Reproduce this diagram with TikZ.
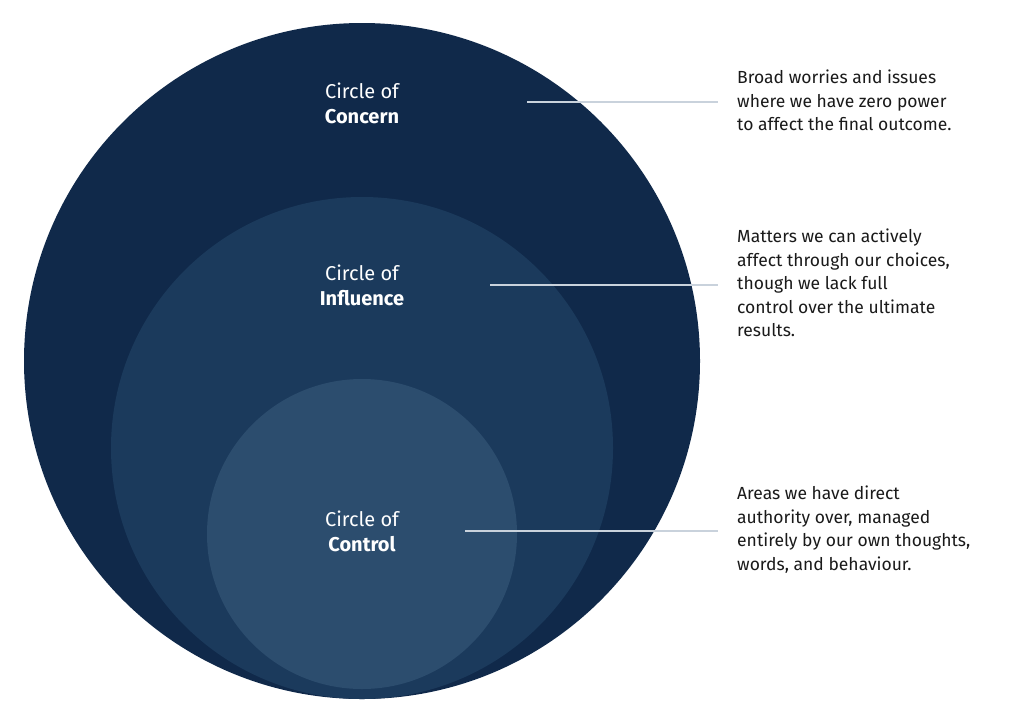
\documentclass[tikz,border=0pt]{standalone}
\usepackage{fontspec}
\setmainfont{Fira Sans}
\definecolor{cOut}{HTML}{10294A}
\definecolor{cMid}{HTML}{1B3A5C}
\definecolor{cIn}{HTML}{2C4D6E}
\definecolor{cLine}{HTML}{C9D2DC}
\definecolor{cTxt}{HTML}{1A1A1A}
\begin{document}
\begin{tikzpicture}[x=1pt,y=-1pt,
  lbl/.style={text=white,font=\fontsize{20}{25}\selectfont,align=center},
  desc/.style={anchor=north west,text=cTxt,font=\fontsize{17.5}{23.5}\selectfont,align=left,inner sep=0pt},
  ln/.style={draw=cLine,line width=1.2pt}]
\useasboundingbox (0,0) rectangle (1024,705);
\fill[white] (0,0) rectangle (1024,705);
\fill[cOut] (362,361) circle[radius=338];
\fill[cMid] (362,448) circle[radius=251];
\fill[cIn] (362,534) circle[radius=155];
\node[lbl] (lc) at (362,103) {Circle of\\\textbf{Concern}};
\node[lbl] (li) at (362,285) {Circle of\\\textbf{Influence}};
\node[lbl] (lo) at (362,531) {Circle of\\\textbf{Control}};
\coordinate (a1) at (527,102); \coordinate (a2) at (718,102);
\coordinate (b1) at (490,285); \coordinate (b2) at (718,285);
\coordinate (c1) at (465,531); \coordinate (c2) at (718,531);
\draw[ln] (a1) -- (a2);
\draw[ln] (b1) -- (b2);
\draw[ln] (c1) -- (c2);
\node[desc] (d1) at (737,70) {Broad worries and issues\\where we have zero power\\to affect the final outcome.};
\node[desc] (d2) at (737,229) {Matters we can actively\\affect through our choices,\\though we lack full\\control over the ultimate\\results.};
\node[desc] (d3) at (737,486) {Areas we have direct\\authority over, managed\\entirely by our own thoughts,\\words, and behaviour.};
\end{tikzpicture}
\end{document}
